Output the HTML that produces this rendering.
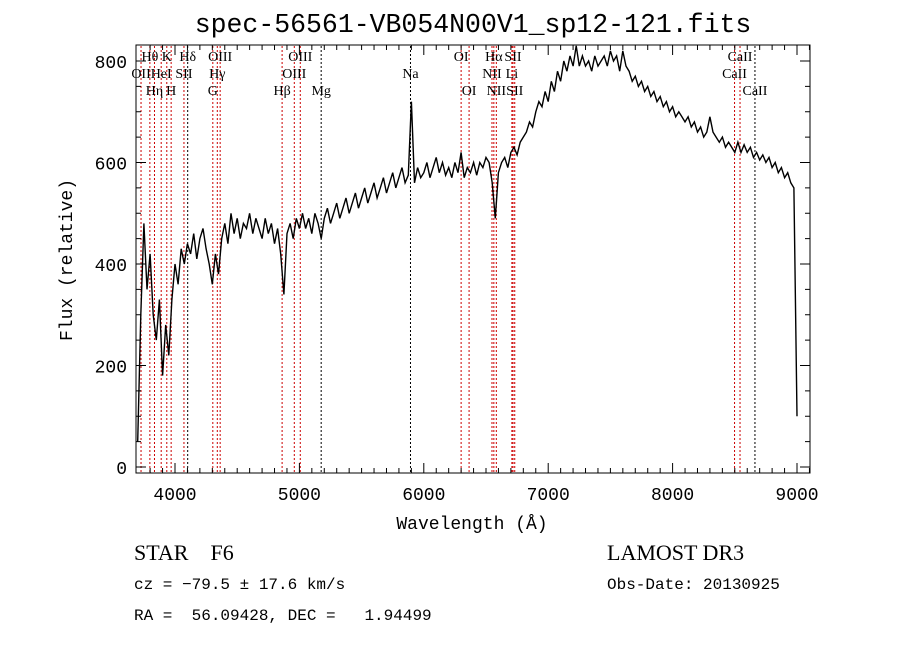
<!DOCTYPE html>
<html><head><meta charset="utf-8"><style>
body{margin:0;background:#fff}
svg{display:block}
text{font-family:"Liberation Serif",serif;fill:#000}
.mono{font-family:"Liberation Mono",monospace}
</style></head><body>
<svg id="chart" width="900" height="649" viewBox="0 0 900 649" xmlns="http://www.w3.org/2000/svg">
<rect width="900" height="649" fill="#fff"/>
<text class="mono" x="473" y="32" font-size="26.5" text-anchor="middle">spec-56561-VB054N00V1_sp12-121.fits</text>
<g id="lines"></g>
<g id="labels"></g>
<path id="spec" fill="none" stroke="#000" stroke-width="1.4"/>
<rect x="136" y="45" width="674" height="428" fill="none" stroke="#000" stroke-width="1"/>
<g id="axes"></g>
<text class="mono" x="472" y="529" font-size="18" text-anchor="middle">Wavelength (Å)</text>
<text class="mono" x="0" y="0" font-size="18" text-anchor="middle" transform="translate(72,260) rotate(-90)">Flux (relative)</text>
<text x="134" y="560" font-size="22" xml:space="preserve">STAR    F6</text>
<text x="607" y="560" font-size="22">LAMOST DR3</text>
<text class="mono" x="134" y="589" font-size="16">cz = −79.5 ± 17.6 km/s</text>
<text class="mono" x="607" y="589" font-size="16">Obs-Date: 20130925</text>
<text class="mono" x="134" y="620" font-size="16" xml:space="preserve">RA =  56.09428, DEC =   1.94499</text>
</svg>
<script>
const wlStart = 3700;
const wlStep = 25;
const flux = [50,300,480,350,420,300,250,330,180,280,220,330,400,360,430,400,440,420,460,410,450,470,430,400,360,420,380,450,480,440,500,460,490,450,480,470,500,460,490,470,450,490,460,480,440,470,420,340,460,480,450,490,470,500,470,490,460,500,480,450,490,510,480,500,520,490,510,530,500,520,540,510,530,550,520,540,560,530,550,570,540,560,580,550,570,590,560,575,720,560,590,570,580,600,570,590,610,580,600,575,590,570,600,580,620,570,590,580,600,575,600,590,610,600,560,490,580,600,610,590,620,630,615,640,650,660,680,670,700,720,710,740,720,760,740,780,760,800,780,810,790,830,790,810,790,800,780,810,790,800,810,790,820,800,810,780,820,790,780,760,770,750,760,740,750,730,740,720,730,710,720,700,710,690,700,690,680,690,670,680,660,670,650,660,690,660,650,640,650,630,640,630,620,640,620,635,620,630,610,620,605,615,600,610,590,600,580,590,570,580,560,550,100];
const lineNames = ["OII","Hθ","Hη","HeI","K","H","SII","Hδ","G","Hγ","OIII","Hβ","OIII","OIII","Mg","Na","OI","OI","NII","Hα","NII","Li","SII","SII","CaII","CaII","CaII"];
const lineWaves = [3727,3798,3835,3889,3934,3969,4072,4102,4304,4340,4363,4861,4959,5007,5175,5893,6300,6364,6548,6563,6583,6708,6717,6731,8498,8542,8662];
const lineRows = [2,1,3,2,1,3,2,1,3,2,1,3,2,1,3,2,1,3,2,1,3,2,1,3,2,1,3];
const xTicks = [4000,5000,6000,7000,8000,9000];
const yTicks = [0,200,400,600,800];

const X = w => 175 + (w-4000)*0.1244;
const Y = f => 467 - f*0.5075;
const NS = "http://www.w3.org/2000/svg";
function mk(tag, attrs, parent){const e=document.createElementNS(NS,tag);for(const k in attrs)e.setAttribute(k,attrs[k]);parent.appendChild(e);return e;}

let d="";
flux.forEach((f,i)=>{const w=wlStart+i*wlStep;d+=(i?"L":"M")+X(w).toFixed(1)+","+Math.max(45,Math.min(473,Y(f))).toFixed(1);});
document.getElementById("spec").setAttribute("d",d);

const gl=document.getElementById("lines"), lb=document.getElementById("labels");
lineWaves.forEach((w,i)=>{
  const col = (lineNames[i]==="Na"||lineNames[i]==="Mg"||lineNames[i]==="Hδ"||i===26)?"#000":"#c00";
  const l=mk("line",{x1:X(w),x2:X(w),y1:46,y2:472,stroke:col,"stroke-width":1,"stroke-dasharray":"2,2"},gl);
  
  
  const t=mk("text",{x:X(w),y:61+(lineRows[i]-1)*17,"font-size":14,"text-anchor":"middle"},lb);
  t.textContent=lineNames[i];
  
  
});

const ax=document.getElementById("axes");
for(let w=3800;w<=9100;w+=100){
  const major=w%1000===0, len=major?10:5;
  mk("line",{x1:X(w),x2:X(w),y1:473,y2:473-len,stroke:"#000"},ax);
  mk("line",{x1:X(w),x2:X(w),y1:45,y2:45+len,stroke:"#000"},ax);
}
xTicks.forEach(w=>{
  const t=mk("text",{x:X(w),y:500,"font-size":18,"text-anchor":"middle",class:"mono"},ax);
  t.textContent=w;
  
  
});
for(let f=0;f<=800;f+=50){
  const major=f%200===0, len=major?10:5;
  mk("line",{x1:136,x2:136+len,y1:Y(f),y2:Y(f),stroke:"#000"},ax);
  mk("line",{x1:810,x2:810-len,y1:Y(f),y2:Y(f),stroke:"#000"},ax);
}
yTicks.forEach(f=>{
  const t=mk("text",{x:127,y:Y(f)+7,"font-size":18,"text-anchor":"end",class:"mono"},ax);
  t.textContent=f;
  
  
});
</script>
</body></html>
